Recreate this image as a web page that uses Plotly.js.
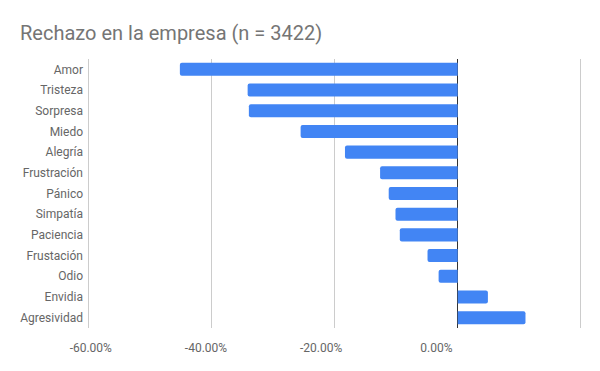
<!DOCTYPE html>
<html><head><meta charset="utf-8">
<script src="https://cdn.plot.ly/plotly-3.0.1.min.js"></script>
<style>body{margin:0;background:#fff}#c{width:600px;height:371px}</style>
</head><body><div id="c"></div>
<script>
const categories = ["Amor","Tristeza","Sorpresa","Miedo","Alegría","Frustración","Pánico","Simpatía","Paciencia","Frustación","Odio","Envidia","Agresividad"];
const values = [-0.451,-0.341,-0.339,-0.255,-0.183,-0.126,-0.112,-0.101,-0.094,-0.049,-0.031,0.049,0.110];
const tickValues = [-0.6,-0.4,-0.2,0];
const tickLabels = ["-60.00%","-40.00%","-20.00%","0.00%"];
const gridValues = [-0.6,-0.4,-0.2,0,0.2];

const trace = {
  type: 'bar', orientation: 'h', x: values, y: categories,
  marker: {color: '#4285F4', cornerradius: 2}, width: 0.63, hoverinfo: 'none'
};
const labelCarrier = {
  type: 'scatter', mode: 'none', x: tickValues, y: tickValues.map(() => categories[0]),
  xaxis: 'x2', yaxis: 'y', hoverinfo: 'none', showlegend: false
};
const layout = {
  width: 600, height: 371,
  margin: {l: 85, r: 16, t: 58.6, b: 42.6},
  paper_bgcolor: '#fff', plot_bgcolor: '#fff',
  font: {family: 'Roboto, Arial, sans-serif', size: 12, color: '#666666'},
  title: {text: 'Rechazo en la empresa (n = 3422)', x: 20/600, xref: 'container', xanchor: 'left',
          y: 1 - 33/371, yref: 'container', yanchor: 'middle',
          font: {family: 'Roboto, Arial, sans-serif', size: 20, color: '#757575'}, pad: {l: 0, t: 0, b: 0}},
  showlegend: false,
  xaxis: {range: [-0.605, 0.205], tickvals: gridValues, showticklabels: false, showgrid: true, gridcolor: '#cccccc', gridwidth: 1,
          zeroline: true, zerolinecolor: '#333333', zerolinewidth: 1, ticks: '', fixedrange: true},
  xaxis2: {overlaying: 'x', side: 'bottom', anchor: 'y', range: [-0.61, 0.2563], tickvals: tickValues, ticktext: tickLabels,
           ticklabelshift: -5.76, ticklabelstandoff: 11,
           showgrid: false, zeroline: false, showline: false, ticks: '', tickfont: {size: 12, color: '#666666'}, fixedrange: true},
  yaxis: {range: [12.5, -0.5], showgrid: false, ticks: '', tickfont: {size: 12, color: '#666666'}, ticklabelstandoff: 1, fixedrange: true}
};
Plotly.newPlot('c', [trace, labelCarrier], layout, {displayModeBar: false, staticPlot: true});
</script></body></html>
